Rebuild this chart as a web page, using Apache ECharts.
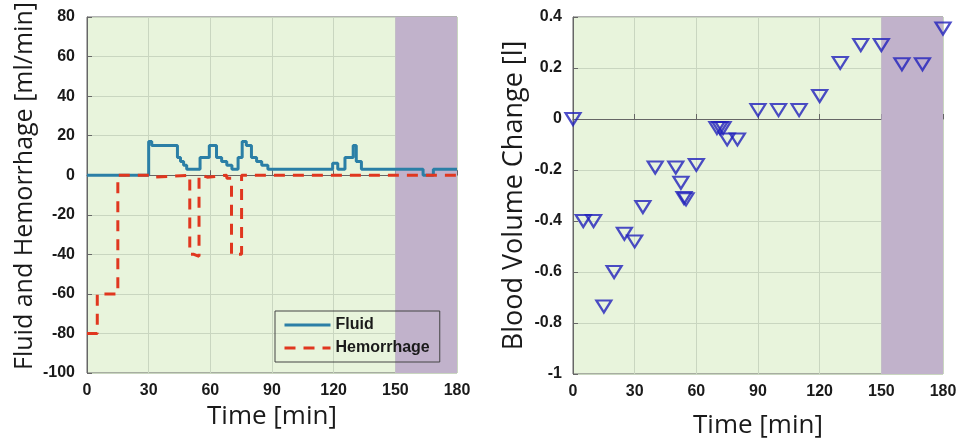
<!DOCTYPE html>
<html>
<head>
<meta charset="utf-8">
<script src="https://cdn.jsdelivr.net/npm/echarts@6/dist/echarts.min.js"></script>
<style>
  html, body { margin: 0; padding: 0; background: #fff; }
  #chart { width: 974px; height: 444px; }
</style>
</head>
<body>
<div id="chart"></div>
<script>
// 左图：输液 / 出血 (ml/min)，阶梯曲线
var fluidTime  = [0, 30, 31.5, 44, 45.5, 47, 48.5, 55, 59.5, 63, 65.5, 68, 70.5, 73.5, 75.5, 77.5, 80, 82.5, 85, 88, 119.5, 122, 125.5, 129.5, 131, 133.5, 163.5, 168.5, 180];
var fluidValue = [0, 17, 15, 9, 7, 5, 3, 9, 15, 9, 7, 5, 3, 9, 17, 15, 9, 7, 5, 3, 6, 3, 9, 15, 7, 3, 0, 3, 3];

var hemTime  = [0, 5, 15, 31, 32.5, 50, 52, 54.5, 56, 58.5, 68, 70.3, 75.2, 180];
var hemValue = [-80, -60, 0, -1, 0, -40, -41, 0, -1, 0, -1.5, -40, 0, 0];

// 右图：血容量变化 (l)
var bvTime  = [0, 5, 10, 15, 20, 25, 30, 34, 40, 50, 52.5, 54, 55, 60, 70, 71.5, 73, 75, 80, 90, 100, 110, 120, 130, 140, 150, 160, 170, 180];
var bvValue = [0, -0.4, -0.4, -0.735, -0.6, -0.45, -0.48, -0.345, -0.19, -0.19, -0.25, -0.31, -0.315, -0.18, -0.035, -0.035, -0.035, -0.08, -0.08, 0.035, 0.035, 0.035, 0.09, 0.22, 0.29, 0.29, 0.215, 0.215, 0.355];

var shadeRange = [150, 180];

function pairs(xs, ys) {
  return xs.map(function (x, i) { return [x, ys[i]]; });
}

var chart = echarts.init(document.getElementById('chart'));

var tickFont = { color: '#1a1a1a', fontFamily: 'Liberation Sans', fontWeight: 'bold', fontSize: 16 };
var nameFont = { color: '#1a1a1a', fontFamily: 'Open Sans', fontSize: 26 };

function xAxisOf(grid, gap) {
  return {
    gridIndex: grid, type: 'value', min: 0, max: 180, interval: 30,
    name: 'Time [min]', nameLocation: 'middle', nameGap: gap, nameTextStyle: nameFont,
    axisLine: { show: true, lineStyle: { color: '#666' } },
    axisTick: { inside: true, length: 5, lineStyle: { color: '#666' } },
    axisLabel: Object.assign({ margin: 10 }, tickFont),
    splitLine: { show: true, lineStyle: { color: '#c9d6c0', width: 1 } }
  };
}

var option = {
  animation: false,
  grid: [
    { left: 87, top: 17, width: 370, height: 356, show: true, backgroundColor: '#e8f4dc', borderColor: '#666', borderWidth: 1 },
    { left: 573, top: 17, width: 370, height: 357, show: true, backgroundColor: '#e8f4dc', borderColor: '#666', borderWidth: 1 }
  ],
  legend: {
    data: ['Fluid', 'Hemorrhage'],
    orient: 'vertical',
    left: 275, top: 311,
    padding: [6, 10, 6, 8],
    itemGap: 7,
    itemWidth: 46, itemHeight: 14,
    borderColor: '#444', borderWidth: 1,
    backgroundColor: 'transparent',
    itemStyle: { opacity: 0 },
    lineStyle: { width: 3 },
    textStyle: { color: '#1a1a1a', fontFamily: 'Liberation Sans', fontWeight: 'bold', fontSize: 16 }
  },
  xAxis: [xAxisOf(0, 30), xAxisOf(1, 39)],
  yAxis: [
    {
      gridIndex: 0, type: 'value', min: -100, max: 80, interval: 20,
      name: 'Fluid and Hemorrhage [ml/min]', nameLocation: 'middle', nameGap: 50,
      nameTextStyle: Object.assign({}, nameFont, { fontSize: 25, padding: [0, 0, 0, 18] }),
      axisLine: { show: true, lineStyle: { color: '#666' } },
      axisTick: { show: true, inside: true, length: 5, lineStyle: { color: '#666' } },
      axisLabel: Object.assign({ margin: 12 }, tickFont),
      splitLine: { show: true, lineStyle: { color: '#c9d6c0', width: 1 } }
    },
    {
      gridIndex: 1, type: 'value', min: -1, max: 0.4, interval: 0.2,
      name: 'Blood Volume Change [l]', nameLocation: 'middle', nameGap: 45,
      nameTextStyle: Object.assign({}, nameFont, { fontSize: 27 }),
      axisLine: { show: true, lineStyle: { color: '#666' } },
      axisTick: { show: true, inside: true, length: 5, lineStyle: { color: '#666' } },
      axisLabel: Object.assign({ margin: 11 }, tickFont),
      splitLine: { show: true, lineStyle: { color: '#c9d6c0', width: 1 } }
    }
  ],
  series: [
    {
      name: 'shade-left', type: 'line', xAxisIndex: 0, yAxisIndex: 0, data: [], silent: true,
      markArea: { silent: true, itemStyle: { color: '#c1b2cb', opacity: 1 }, data: [[{ xAxis: shadeRange[0] }, { xAxis: shadeRange[1] }]] }
    },
    {
      name: 'shade-right', type: 'line', xAxisIndex: 1, yAxisIndex: 1, data: [], silent: true,
      markArea: { silent: true, itemStyle: { color: '#c1b2cb', opacity: 1 }, data: [[{ xAxis: shadeRange[0] }, { xAxis: shadeRange[1] }]] }
    },
    {
      name: 'Fluid', type: 'line', xAxisIndex: 0, yAxisIndex: 0, step: 'end',
      data: pairs(fluidTime, fluidValue),
      showSymbol: false, symbol: 'none',
      lineStyle: { color: '#2b7fa6', width: 3 },
      itemStyle: { color: '#2b7fa6' }
    },
    {
      name: 'Hemorrhage', type: 'line', xAxisIndex: 0, yAxisIndex: 0, step: 'end',
      data: pairs(hemTime, hemValue),
      showSymbol: false, symbol: 'none',
      lineStyle: { color: '#e0371f', width: 3, type: [11, 8] },
      itemStyle: { color: '#e0371f' }
    },
    {
      name: 'Blood Volume', type: 'scatter', xAxisIndex: 1, yAxisIndex: 1,
      data: pairs(bvTime, bvValue),
      symbol: 'triangle', symbolRotate: 180, symbolSize: [15, 12],
      itemStyle: { color: 'rgba(0,0,0,0)', borderColor: '#2020bc', borderWidth: 2.2 }
    }
  ]
};

chart.setOption(option);
</script>
</body>
</html>
